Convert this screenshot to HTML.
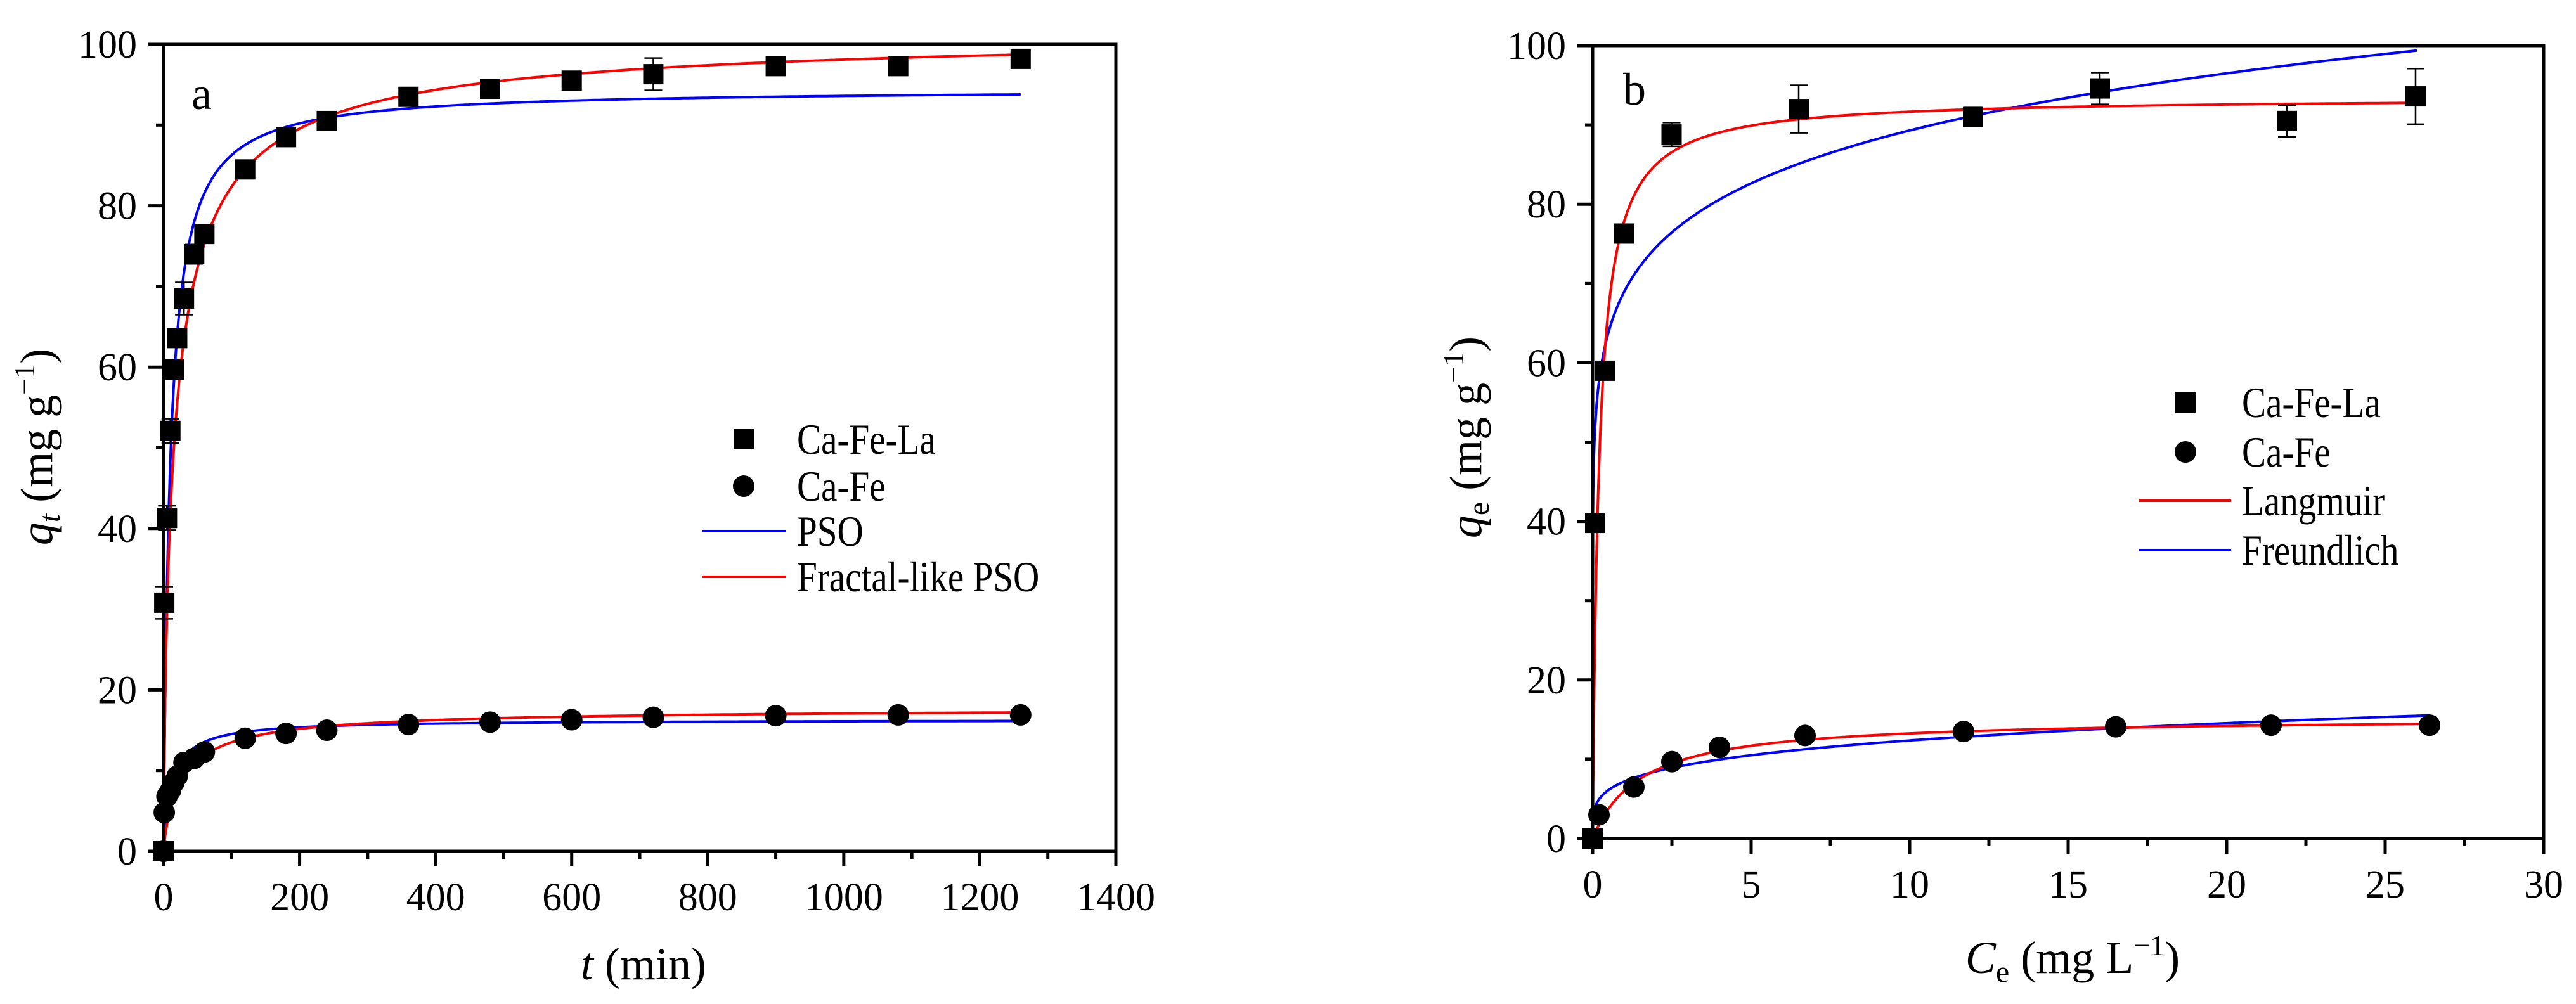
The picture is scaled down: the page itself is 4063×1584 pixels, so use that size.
<!DOCTYPE html>
<html><head><meta charset="utf-8"><style>
html,body{margin:0;padding:0;background:#fff;}
svg{display:block;font-family:"Liberation Serif",serif;}
</style></head><body>
<svg id="fig" width="4063" height="1584" viewBox="0 0 4063 1584" xmlns="http://www.w3.org/2000/svg"></svg>
<script>
// ---- Panel a data (kinetics) ----
const kinT = [0,1,5,10,15,20,30,45,60,120,180,240,360,480,600,720,900,1080,1260];
const kinLa = [0,30.8,41.3,52.1,59.7,63.6,68.5,74,76.5,84.5,88.5,90.5,93.5,94.5,95.5,96.3,97.3,97.3,98.2];
const kinLaErr = [0,2,1.5,1.5,1,1,2,1.2,1,0.8,0.8,0.8,0.8,0.8,0.8,2,0.8,0.8,0.8];
const kinFe = [0,4.8,6.8,7.5,8.5,9.3,11,11.5,12.3,14,14.6,15,15.7,16,16.3,16.6,16.8,16.9,16.9];
const kinXTicks = [0,200,400,600,800,1000,1200,1400];
const kinYTicks = [0,20,40,60,80,100];
// ---- Panel b data (isotherms) ----
const isoCeLa = [0,0.08,0.39,0.98,2.49,6.5,12,16,21.9,25.96];
const isoLa = [0,39.8,59,76.3,88.8,92,91,94.6,90.5,93.6];
const isoLaErr = [0,0.5,0.5,0.5,1.5,3,1.2,2,2,3.5];
const isoCeFe = [0,0.2,1.3,2.5,4,6.7,11.7,16.5,21.4,26.4];
const isoFe = [0,3,6.5,9.7,11.5,13,13.5,14.1,14.3,14.3];
const isoXTicks = [0,5,10,15,20,25,30];
const isoYTicks = [0,20,40,60,80,100];
// model parameters (fits)
const psoLa = [94.5,0.105], psoFe=[16.3,0.082];
const frLa = [102,0.1155,0.78], frFe=[17.8,0.0564,0.873];
const langLa=[93.5,5], langFe=[15.3,0.65];
const frdLa=[69,0.112], frdFe=[7.2,0.235];

const NS="http://www.w3.org/2000/svg";
const svg=document.getElementById('fig');
function el(tag,attrs,parent,text){const e=document.createElementNS(NS,tag);for(const k in attrs)e.setAttribute(k,attrs[k]);if(text!==undefined)e.textContent=text;(parent||svg).appendChild(e);return e;}

function panel(cfg){
  const g=el('g',{});
  
  
  const X=v=>cfg.x0+(v-cfg.xmin)/(cfg.xmax-cfg.xmin)*(cfg.x1-cfg.x0);
  const Y=v=>cfg.y0-(v)/(100)*(cfg.y0-cfg.y1);
  cfg.curves.forEach(c=>{
    let d='';const n=600;
    for(let i=0;i<=n;i++){const t=c.from+(c.to-c.from)*Math.pow(i/n,2.2);const v=c.f(t);d+=(i?'L':'M')+X(t).toFixed(1)+','+Y(v).toFixed(1);}
    const p=el('path',{d:d,fill:'none',stroke:c.color,'stroke-width':4},g);
    
    
  });
  cfg.series.forEach(s=>{
    s.x.forEach((xv,i)=>{
      const cx=X(xv),cy=Y(s.y[i]);
      if(s.err&&s.err[i]>0.7){
        const e1=Y(s.y[i]+s.err[i]),e2=Y(s.y[i]-s.err[i]);
        const eb=el('path',{d:`M${cx},${e1}V${e2}M${cx-14},${e1}H${cx+14}M${cx-14},${e2}H${cx+14}`,stroke:'#000','stroke-width':2.5,fill:'none'},g);
        
        
      }
      let m;
      if(s.shape==='square') m=el('rect',{x:cx-16,y:cy-16,width:32,height:32,fill:'#000'},g);
      else m=el('circle',{cx:cx,cy:cy,r:17,fill:'#000'},g);
      
      
    });
  });
  const fr=el('rect',{x:cfg.x0,y:cfg.y1,width:cfg.x1-cfg.x0,height:cfg.y0-cfg.y1,fill:'none',stroke:'#000','stroke-width':5},g);
  
  
  cfg.xticks.forEach((v,i)=>{
    const x=X(v);
    el('line',{x1:x,x2:x,y1:cfg.y0,y2:cfg.y0+24,stroke:'#000','stroke-width':5},g);
    const t=el('text',{x:x,y:cfg.y0+93,'font-size':62,'text-anchor':'middle'},g,String(v));
    
    
    if(i<cfg.xticks.length-1){const xm=X(v+(cfg.xticks[1]-cfg.xticks[0])/2);el('line',{x1:xm,x2:xm,y1:cfg.y0,y2:cfg.y0+12,stroke:'#000','stroke-width':5},g);}
  });
  cfg.yticks.forEach((v,i)=>{
    const y=Y(v);
    el('line',{x1:cfg.x0-24,x2:cfg.x0,y1:y,y2:y,stroke:'#000','stroke-width':5},g);
    const t=el('text',{x:cfg.x0-42,y:y+21,'font-size':62,'text-anchor':'end'},g,String(v));
    
    
    if(i<cfg.yticks.length-1){const ym=Y(v+10);el('line',{x1:cfg.x0-12,x2:cfg.x0,y1:ym,y2:ym,stroke:'#000','stroke-width':5},g);}
  });
  cfg.legend.forEach(L=>{
    let m;
    if(L.type==='square') m=el('rect',{x:L.mx-16,y:L.y-16,width:32,height:32,fill:'#000'},g);
    else if(L.type==='circle') m=el('circle',{cx:L.mx,cy:L.y,r:17,fill:'#000'},g);
    else m=el('line',{x1:L.lx1,x2:L.lx2,y1:L.y,y2:L.y,stroke:L.color,'stroke-width':4},g);
    
    
    const t=el('text',{x:0,y:0,'font-size':68,transform:`translate(${cfg.legTextX},${L.y+23}) scale(0.84,1)`},g,L.label);
    
    
  });
  const pl=el('text',{x:cfg.panelLabel[0],y:cfg.panelLabel[1],'font-size':72},g,cfg.panelLabel[2]);
  
  
  return g;
}

const pso=(p)=>t=>p[0]*p[1]*t/(1+p[1]*t);
const fr=(p)=>t=>{const x=p[1]*Math.pow(t,p[2]);return p[0]*x/(1+x);};
const lang=(p)=>c=>p[0]*p[1]*c/(1+p[1]*c);
const frd=(p)=>c=>p[0]*Math.pow(c,p[1]);

panel({name:'panel-a-kinetics',x0:258,x1:1760,y0:1343,y1:70,xmin:0,xmax:1400,
  xticks:kinXTicks,yticks:kinYTicks,
  curves:[
    {name:'pso-curve-ca-fe-la',color:'#0000ff',from:0,to:1260,f:pso(psoLa)},
    {name:'pso-curve-ca-fe',color:'#0000ff',from:0,to:1260,f:pso(psoFe)},
    {name:'fractal-pso-curve-ca-fe-la',color:'#ff0000',from:0,to:1260,f:fr(frLa)},
    {name:'fractal-pso-curve-ca-fe',color:'#ff0000',from:0,to:1260,f:fr(frFe)}],
  series:[{name:'ca-fe-la',shape:'square',x:kinT,y:kinLa,err:kinLaErr},{name:'ca-fe',shape:'circle',x:kinT,y:kinFe}],
  legTextX:1257,
  legend:[{type:'square',mx:1173,y:693,label:'Ca-Fe-La'},{type:'circle',mx:1173,y:767,label:'Ca-Fe'},
    {type:'line',lx1:1107,lx2:1240,y:838,color:'#0000ff',label:'PSO'},{type:'line',lx1:1107,lx2:1240,y:910,color:'#ff0000',label:'Fractal-like PSO'}],
  panelLabel:[302,172,'a']});

panel({name:'panel-b-isotherms',x0:2512,x1:4012,y0:1323,y1:72,xmin:0,xmax:30,
  xticks:isoXTicks,yticks:isoYTicks,
  curves:[
    {name:'freundlich-curve-ca-fe-la',color:'#0000ff',from:0.0001,to:26,f:frd(frdLa)},
    {name:'freundlich-curve-ca-fe',color:'#0000ff',from:0.0001,to:26.4,f:frd(frdFe)},
    {name:'langmuir-curve-ca-fe-la',color:'#ff0000',from:0,to:26,f:lang(langLa)},
    {name:'langmuir-curve-ca-fe',color:'#ff0000',from:0,to:26.4,f:lang(langFe)}],
  series:[{name:'ca-fe-la',shape:'square',x:isoCeLa,y:isoLa,err:isoLaErr},{name:'ca-fe',shape:'circle',x:isoCeFe,y:isoFe}],
  legTextX:3536,
  legend:[{type:'square',mx:3447,y:635,label:'Ca-Fe-La'},{type:'circle',mx:3447,y:713,label:'Ca-Fe'},
    {type:'line',lx1:3373,lx2:3519,y:790,color:'#ff0000',label:'Langmuir'},{type:'line',lx1:3373,lx2:3519,y:868,color:'#0000ff',label:'Freundlich'}],
  panelLabel:[2560,165,'b']});

let t;
t=el('text',{x:1015,y:1545,'font-size':72,'text-anchor':'middle'});
t.innerHTML='<tspan font-style="italic">t</tspan> (min)';


t=el('text',{x:3269,y:1535,'font-size':72,'text-anchor':'middle'});
t.innerHTML='<tspan font-style="italic">C</tspan><tspan font-size="48" dy="14">e</tspan><tspan dy="-14"> (mg L</tspan><tspan font-size="46" dy="-28">−1</tspan><tspan dy="28">)</tspan>';


t=el('text',{x:0,y:0,'font-size':72,'text-anchor':'middle',transform:'translate(82,705) rotate(-90)'});
t.innerHTML='<tspan font-style="italic">q</tspan><tspan font-style="italic" font-size="48" dy="12">t</tspan><tspan dy="-12"> (mg g</tspan><tspan font-size="46" dy="-28">−1</tspan><tspan dy="28">)</tspan>';


t=el('text',{x:0,y:0,'font-size':72,'text-anchor':'middle',transform:'translate(2336,690) rotate(-90)'});
t.innerHTML='<tspan font-style="italic">q</tspan><tspan font-size="48" dy="12">e</tspan><tspan dy="-12"> (mg g</tspan><tspan font-size="46" dy="-28">−1</tspan><tspan dy="28">)</tspan>';


</script>
</body></html>
